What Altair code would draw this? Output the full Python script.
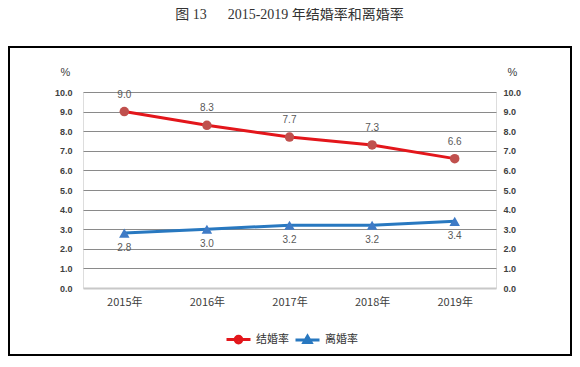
import altair as alt
import pandas as pd

years = ['2015年', '2016年', '2017年', '2018年', '2019年']
marriage = [9.0, 8.3, 7.7, 7.3, 6.6]
divorce = [2.8, 3.0, 3.2, 3.2, 3.4]
series_names = ['结婚率', '离婚率']
line_colors = ['#E3161B', '#2878C0']
marker_colors = ['#C0504D', '#3F7BC6']
y_ticks = [0, 1, 2, 3, 4, 5, 6, 7, 8, 9, 10]
legend_paths = [
    'M-1,0H1M0.28,0A0.28,0.28,0,1,1,-0.28,0A0.28,0.28,0,1,1,0.28,0Z',
    'M-1,0H1M0,-0.3L0.3,0.22L-0.3,0.22Z',
]
title_text = '图 13\u00a0\u00a0\u00a0\u00a0\u00a0\u00a02015-2019 年结婚率和离婚率'

df = pd.DataFrame({
    'year': years * 2,
    'value': marriage + divorce,
    'series': [series_names[0]] * len(years) + [series_names[1]] * len(years),
})

W, H = 413, 196

x_enc = alt.X('year:N', sort=years, scale=alt.Scale(type='point', padding=0.5),
              axis=alt.Axis(labelAngle=0, domain=False, ticks=False, labelFontSize=11,
                            labelColor='#404040', labelPadding=8, title=None,
                            labelFont='Noto Sans CJK SC'))
y_scale = alt.Scale(domain=[0, 10])
axis_common = dict(values=y_ticks, format='.1f', domain=False, ticks=False,
                   labelFont='Liberation Sans', labelFontWeight='bold', labelFontSize=9,
                   labelColor='#404040', title='%', titleAngle=0, titleFontSize=11,
                   titleFontWeight='normal', titleColor='#404040', titleAlign='center',
                   titleBaseline='middle', titleY=-20, titleFont='Liberation Sans')
left_axis = alt.Axis(orient='left', grid=True, labelPadding=11, titleX=-18,
                     gridColor={'condition': {'test': 'datum.value === 0', 'value': '#c8c8c8'}, 'value': '#8a8a8a'},
                     gridWidth={'condition': {'test': 'datum.value === 0', 'value': 2}, 'value': 1},
                     **axis_common)
right_axis = alt.Axis(orient='right', grid=False, labelPadding=7, titleX=16, **axis_common)

leg = dict(orient='none', legendX=142, legendY=234, direction='horizontal', title=None,
           labelFontSize=11, labelFont='Noto Sans CJK SC', labelColor='#333333',
           symbolSize=576, symbolStrokeWidth=3, symbolOpacity=1, columnPadding=0, labelOffset=4)
stroke_scale = alt.Scale(domain=series_names, range=line_colors)

base = alt.Chart(df)

lines = base.mark_line(strokeWidth=3).encode(
    x=x_enc,
    y=alt.Y('value:Q', scale=y_scale, axis=left_axis),
    stroke=alt.Stroke('series:N', scale=stroke_scale, legend=alt.Legend(**leg)),
)
circles = base.transform_filter(alt.datum.series == series_names[0]).mark_point(
    shape='circle', filled=True, size=90, opacity=1, color=marker_colors[0]
).encode(x=x_enc, y=alt.Y('value:Q', scale=y_scale, axis=None))
triangles = base.transform_filter(alt.datum.series == series_names[1]).mark_point(
    shape='triangle-up', filled=True, size=110, opacity=1, color=marker_colors[1]
).encode(x=x_enc, y=alt.Y('value:Q', scale=y_scale, axis=None))

text_m = base.transform_filter(alt.datum.series == series_names[0]).mark_text(
    dy=-17, fontSize=10, color='#595959', font='Liberation Sans'
).encode(x=x_enc, y=alt.Y('value:Q', scale=y_scale, axis=right_axis),
         text=alt.Text('value:Q', format='.1f'))
text_d = base.transform_filter(alt.datum.series == series_names[1]).mark_text(
    dy=15, fontSize=10, color='#595959', font='Liberation Sans'
).encode(x=x_enc, y=alt.Y('value:Q', scale=y_scale, axis=None),
         text=alt.Text('value:Q', format='.1f'))

legend_layer = base.mark_point(filled=True, strokeWidth=3, opacity=0).encode(
    x=x_enc,
    y=alt.Y('value:Q', scale=y_scale, axis=None),
    fill=alt.Fill('series:N', scale=alt.Scale(domain=series_names, range=marker_colors), legend=alt.Legend(**leg)),
    stroke=alt.Stroke('series:N', scale=stroke_scale, legend=alt.Legend(**leg)),
    shape=alt.Shape('series:N', scale=alt.Scale(domain=series_names, range=legend_paths), legend=alt.Legend(**leg)),
)

frame = alt.Chart(pd.DataFrame({'a': [0]})).mark_rect(
    fill='transparent', stroke='black', strokeWidth=2
).encode(x=alt.value(-74), x2=alt.value(488), y=alt.value(-45), y2=alt.value(263))

chart = alt.layer(frame, lines, circles, triangles, text_m, text_d, legend_layer).resolve_axis(
    y='independent'
).properties(
    width=W, height=H,
    title=alt.TitleParams(title_text, font='Liberation Serif, Noto Sans CJK SC', fontSize=14,
                          fontWeight='normal', color='#333333', anchor='middle', offset=24),
    autosize=alt.AutoSizeParams(type='none'),
    padding={'left': 75, 'top': 84, 'right': 76, 'bottom': 70},
).configure_view(stroke=None).configure(background='white')

chart.save('out.html', embed_options={'renderer': 'svg', 'actions': False})
